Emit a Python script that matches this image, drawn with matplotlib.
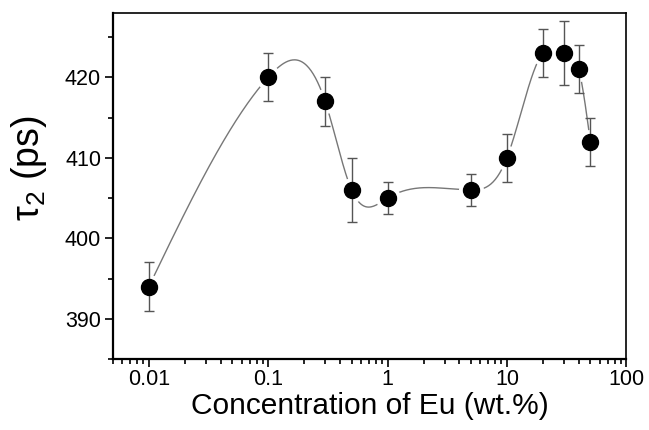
import numpy as np
import matplotlib
matplotlib.use('Agg')
import matplotlib.pyplot as plt
from matplotlib.ticker import LogLocator, MultipleLocator, FixedLocator, FixedFormatter, NullFormatter

plt.rcParams['font.family'] = ['Liberation Sans', 'DejaVu Sans']
plt.rcParams['mathtext.fontset'] = 'custom'
plt.rcParams['mathtext.rm'] = 'Liberation Sans'
plt.rcParams['mathtext.it'] = 'Liberation Sans'

# data
conc = [0.01, 0.1, 0.3, 0.5, 1, 5, 10, 20, 30, 40, 50]
tau2 = [394, 420, 417, 406, 405, 406, 410, 423, 423, 421, 412]
err = [3, 3, 3, 4, 2, 2, 3, 3, 4, 3, 3]

xticks = [0.01, 0.1, 1, 10, 100]
xtick_labels = ['0.01', '0.1', '1', '10', '100']
yticks = [390, 400, 410, 420]


def natural_spline(xs, ys, n=600):
    # cubic spline through the points (line style of the original plot)
    xs = np.asarray(xs, float)
    ys = np.asarray(ys, float)
    k = len(xs)
    h = np.diff(xs)
    A = np.zeros((k, k))
    b = np.zeros(k)
    A[0, 0] = A[-1, -1] = 1
    for i in range(1, k - 1):
        A[i, i - 1] = h[i - 1]
        A[i, i] = 2 * (h[i - 1] + h[i])
        A[i, i + 1] = h[i]
        b[i] = 6 * ((ys[i + 1] - ys[i]) / h[i] - (ys[i] - ys[i - 1]) / h[i - 1])
    M = np.linalg.solve(A, b)
    xx = np.linspace(xs[0], xs[-1], n)
    idx = np.clip(np.searchsorted(xs, xx) - 1, 0, k - 2)
    x0, x1 = xs[idx], xs[idx + 1]
    hh = x1 - x0
    t0, t1 = x1 - xx, xx - x0
    yy = (M[idx] * t0**3 / (6 * hh) + M[idx + 1] * t1**3 / (6 * hh)
          + (ys[idx] / hh - M[idx] * hh / 6) * t0
          + (ys[idx + 1] / hh - M[idx + 1] * hh / 6) * t1)
    return xx, yy


lx, ly = natural_spline(np.log10(conc), tau2)

fig = plt.figure(figsize=(6.49, 4.30), dpi=100)
ax = fig.add_axes([0.174, 0.165, 0.791, 0.805])

ax.plot(10**lx, ly, color='#777777', lw=1.0, zorder=1)
ax.plot(conc, tau2, 'o', ms=17, color='white', zorder=2)
ax.errorbar(conc, tau2, yerr=err, fmt='none', ecolor='#555555', elinewidth=1.0,
            capsize=3.5, capthick=1.0, zorder=3)
ax.plot(conc, tau2, 'o', ms=11.5, color='black', zorder=4)

ax.set_xscale('log')
ax.set_xlim(0.005, 100)
ax.set_ylim(385, 428)

ax.xaxis.set_major_locator(FixedLocator(xticks))
ax.xaxis.set_major_formatter(FixedFormatter(xtick_labels))
ax.xaxis.set_minor_locator(LogLocator(base=10, subs=np.arange(2, 10)))
ax.xaxis.set_minor_formatter(NullFormatter())
ax.yaxis.set_major_locator(FixedLocator(yticks))
ax.yaxis.set_minor_locator(MultipleLocator(5))

ax.tick_params(which='both', direction='out', top=False, right=False,
               labelsize=15.5, width=1.2)
ax.tick_params(which='major', length=5.5)
ax.tick_params(which='minor', length=3.5)
ax.tick_params(axis='x', which='major', pad=2)
ax.tick_params(axis='y', which='major', pad=3)
for s in ax.spines.values():
    s.set_linewidth(1.2)
ax.spines['left'].set_linewidth(1.6)
ax.spines['bottom'].set_linewidth(1.6)

ax.set_xlabel('Concentration of Eu (wt.%)', fontsize=21.5, labelpad=1)
ax.set_ylabel(r'$\mathrm{\tau}_2$ (ps)', fontsize=27)
ax.yaxis.set_label_coords(-0.125, 0.55)

fig.savefig('out.png', dpi=100)
